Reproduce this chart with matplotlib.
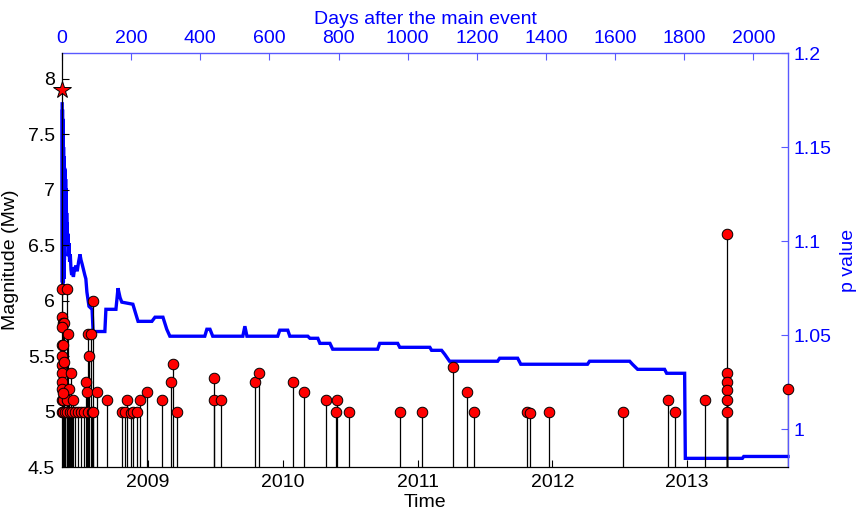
import matplotlib
matplotlib.use("Agg")
import matplotlib.pyplot as plt
import numpy as np

plt.rcParams['font.family'] = ['Liberation Sans', 'DejaVu Sans']

# Main event (decimal year, magnitude)
main_time = 2008.362
main_mag = 7.9

# Aftershocks: time (decimal year) and magnitude (Mw)
event_time = [
    2008.363, 2008.399, 2008.363, 2008.369, 2008.377, 2008.363, 2008.406,
    2008.363, 2008.369, 2008.363, 2008.363, 2008.363, 2008.429, 2008.363,
    2008.363, 2008.414, 2008.363, 2008.369, 2008.399, 2008.444, 2008.363,
    2008.369, 2008.384, 2008.399, 2008.421, 2008.436, 2008.458, 2008.481,
    2008.503, 2008.525, 2008.555, 2008.585, 2008.592, 2008.555, 2008.577,
    2008.562, 2008.540, 2008.548, 2008.622, 2008.377, 2008.369, 2008.592,
    2008.696, 2008.807, 2008.829, 2008.844, 2008.874, 2008.889, 2008.918,
    2008.941, 2008.993, 2009.104, 2009.171, 2009.186, 2009.215, 2009.490,
    2009.490, 2009.542, 2009.794, 2009.823, 2010.076, 2010.157, 2010.321,
    2010.402, 2010.395, 2010.491, 2010.870, 2011.033, 2011.263, 2011.366,
    2011.418, 2011.812, 2011.834, 2011.975, 2012.524, 2012.858, 2012.910,
    2013.132, 2013.295, 2013.295, 2013.295, 2013.295, 2013.295, 2013.295,
    2013.748,
]
event_mag = [
    6.1, 6.1, 5.85, 5.8, 5.8, 5.76, 5.7,
    5.6, 5.6, 5.5, 5.42, 5.35, 5.35, 5.27,
    5.2, 5.2, 5.1, 5.1, 5.1, 5.1, 5.0,
    5.0, 5.0, 5.0, 5.0, 5.0, 5.0, 5.0,
    5.0, 5.0, 5.0, 5.0, 6.0, 5.7, 5.7,
    5.5, 5.27, 5.18, 5.18, 5.45, 5.17, 5.0,
    5.1, 5.0, 5.0, 5.1, 4.99, 5.0, 5.0,
    5.1, 5.18, 5.1, 5.27, 5.43, 5.0, 5.3,
    5.1, 5.1, 5.27, 5.35, 5.27, 5.18, 5.1,
    5.1, 5.0, 5.0, 5.0, 5.0, 5.4, 5.18,
    5.0, 5.0, 4.99, 5.0, 5.0, 5.1, 5.0,
    5.1, 6.6, 5.35, 5.27, 5.19, 5.1, 5.0,
    5.2,
]

# p value vs days after the main event
p_days = [
    0.5, 1, 1.5, 2, 2.5, 3, 3.5, 4, 4.5, 5, 5.5, 6, 6.5, 7, 7.5, 8, 8.5, 9,
    9.5, 10, 10.5, 11, 11.5, 12, 12.5, 13, 13.5, 14, 15, 16, 17, 18, 20, 22,
    24, 26, 28, 30, 33, 36, 40, 44, 48, 52, 55, 58, 62, 66,
    69, 72, 78, 87, 90, 124, 127, 156, 162, 168, 173, 205, 214, 220, 260, 269,
    292, 303, 312, 413, 419, 428, 436, 523, 529, 535, 624, 630, 653, 659, 711,
    717, 740, 746, 775, 783, 913, 919, 971, 977, 1064, 1069, 1098, 1107, 1121,
    1260, 1266, 1318, 1327, 1520, 1526, 1642, 1650, 1665, 1743, 1749, 1801,
    1803, 1968, 1972, 2100,
]
p_value = [
    1.173, 1.078, 1.170, 1.076, 1.165, 1.080, 1.160, 1.078, 1.150, 1.082,
    1.145, 1.080, 1.139, 1.090, 1.139, 1.100, 1.138, 1.104, 1.136, 1.103,
    1.133, 1.101, 1.128, 1.100, 1.122, 1.099, 1.115, 1.100, 1.110,
    1.097, 1.104, 1.092, 1.099, 1.089, 1.093, 1.085, 1.082, 1.086, 1.081,
    1.085, 1.087, 1.084, 1.089, 1.093, 1.090, 1.088, 1.085, 1.082, 1.080,
    1.073, 1.0654, 1.0638, 1.052, 1.052, 1.0638, 1.0638, 1.075, 1.070, 1.0676,
    1.0665, 1.061, 1.0574, 1.0574, 1.0596, 1.0596, 1.0532, 1.0495, 1.0495,
    1.0532, 1.0532, 1.0495, 1.0495, 1.0548, 1.0495, 1.0495, 1.0527, 1.0527,
    1.0495, 1.0495, 1.0484, 1.0484, 1.0457, 1.0457, 1.0426, 1.0426, 1.0457,
    1.0457, 1.0436, 1.0436, 1.042, 1.042, 1.0399, 1.0362, 1.0362, 1.0378,
    1.0378, 1.0346, 1.0346, 1.0362, 1.0362, 1.0346, 1.0319, 1.0319, 1.0298,
    1.0298, 0.9846, 0.9846, 0.9856, 0.9856,
]

year_ticks = [2009, 2010, 2011, 2012, 2013]
mag_ticks = [4.5, 5, 5.5, 6, 6.5, 7, 7.5, 8]
day_ticks = list(range(0, 2001, 200))
p_ticks = [1, 1.05, 1.1, 1.15, 1.2]

BLUE = (0, 0, 1)
SPINE_BLUE = (0.35, 0.35, 1)
FS = 14

fig = plt.figure(figsize=(8.65, 5.21), dpi=100)
rect = [62 / 865, 1 - 467 / 521, (788 - 62) / 865, (467 - 53) / 521]

ax2 = fig.add_axes(rect)   # days / p value (blue), behind
ax1 = fig.add_axes(rect)   # time / magnitude, front
ax1.set_zorder(2)
ax2.set_zorder(1)
ax1.patch.set_visible(False)

# p value curve
ax2.plot(p_days, p_value, color=BLUE, lw=2.4, solid_joinstyle='miter',
         clip_on=False)
ax2.set_xlim(0, 2100)
ax2.set_ylim(0.98, 1.2)
ax2.xaxis.set_ticks_position('top')
ax2.xaxis.set_label_position('top')
ax2.yaxis.set_ticks_position('right')
ax2.yaxis.set_label_position('right')
ax2.set_xticks(day_ticks)
ax2.set_yticks(p_ticks)
ax2.set_yticklabels(['1', '1.05', '1.1', '1.15', '1.2'])
ax2.tick_params(direction='in', length=5, width=0.8, colors=BLUE, labelsize=FS,
                pad=4)
ax2.tick_params(axis='x', color=SPINE_BLUE)
ax2.tick_params(axis='y', color=SPINE_BLUE)
for s in ['left', 'bottom']:
    ax2.spines[s].set_visible(False)
for s in ['top', 'right']:
    ax2.spines[s].set_color(SPINE_BLUE)
    ax2.spines[s].set_linewidth(1.0)
ax2.set_xlabel('Days after the main event', color=BLUE, fontsize=FS, labelpad=5)
ax2.set_ylabel('p value', color=BLUE, fontsize=FS, labelpad=6)

# Aftershock stems and markers
ax1.vlines(event_time, 4.5, event_mag, color='k', lw=0.9, zorder=2)
ax1.plot(event_time, event_mag, 'o', ms=7.6, mfc='red', mec='k', mew=0.7,
         zorder=3, clip_on=False)
ax1.plot([main_time], [main_mag], '*', ms=13, mfc='red', mec='k', mew=0.7,
         zorder=4, clip_on=False)
ax1.set_xlim(2008.362, 2013.749)
ax1.set_ylim(4.5, 8.23)
ax1.set_xticks(year_ticks)
ax1.set_xticklabels([str(y) for y in year_ticks])
ax1.set_yticks(mag_ticks)
ax1.set_yticklabels(['4.5', '5', '5.5', '6', '6.5', '7', '7.5', '8'])
ax1.tick_params(direction='in', length=5, width=0.8, colors='k', labelsize=FS,
                pad=5)
for s in ['top', 'right']:
    ax1.spines[s].set_visible(False)
for s in ['left', 'bottom']:
    ax1.spines[s].set_color('k')
    ax1.spines[s].set_linewidth(0.9)
ax1.set_xlabel('Time', fontsize=FS, labelpad=2)
ax1.set_ylabel('Magnitude (Mw)', fontsize=FS, labelpad=6)

fig.savefig('out.png', dpi=100)
